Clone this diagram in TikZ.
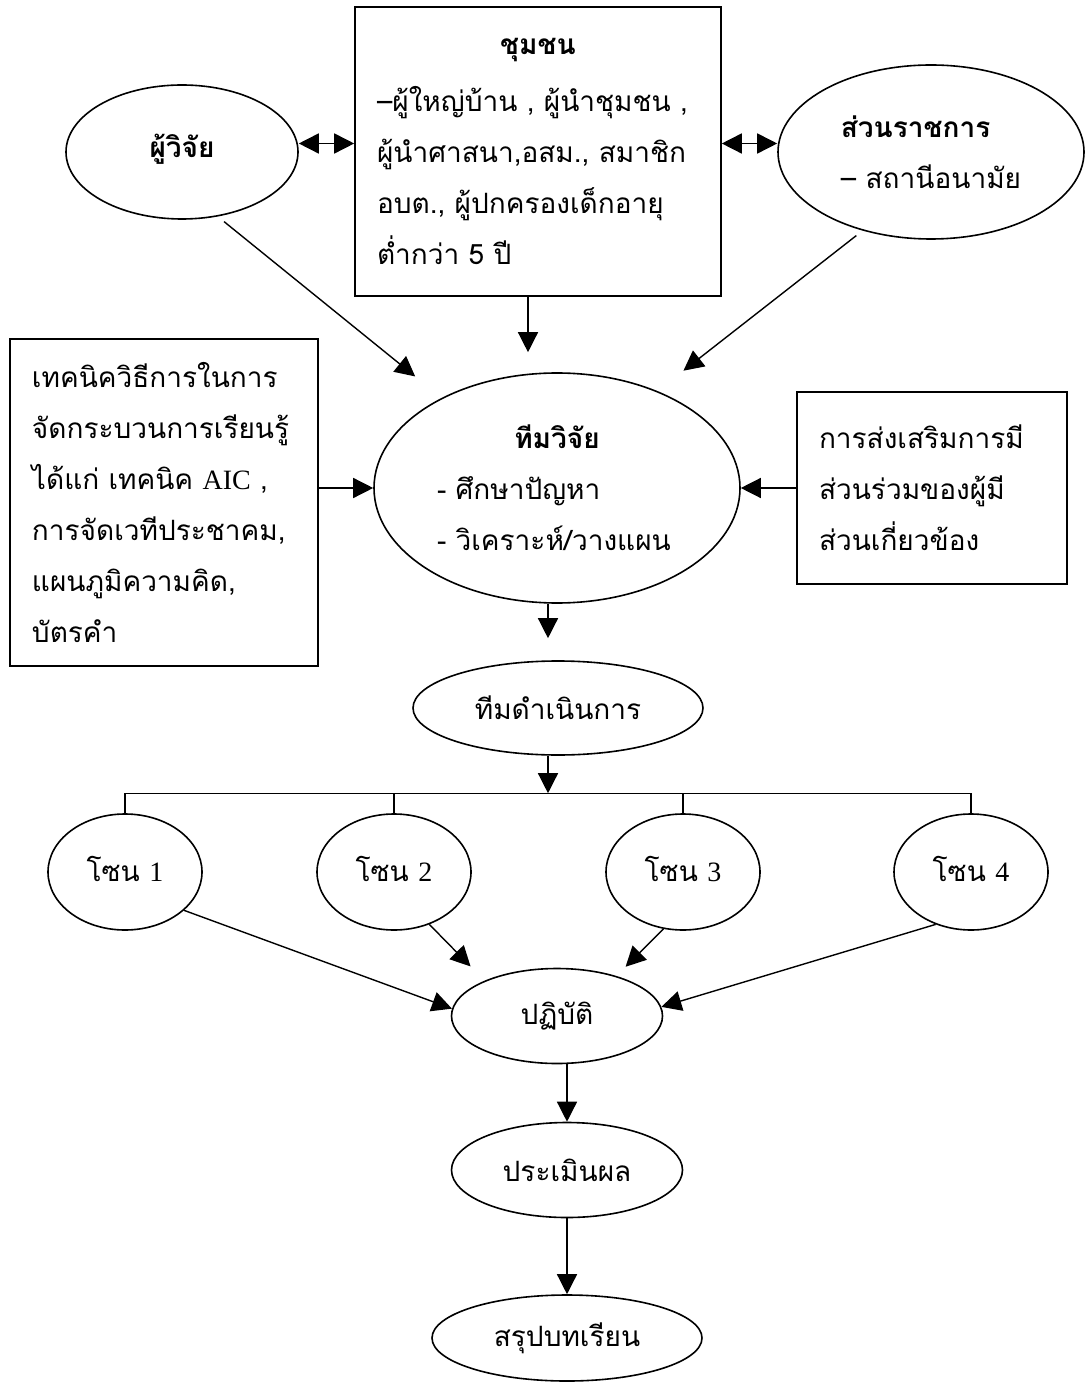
\documentclass[tikz,border=0pt]{standalone}
\usepackage{fontspec}
\setmainfont[Script=Thai]{Loma}
\newfontfamily\latinserif{Liberation Serif}
\usetikzlibrary{shapes.geometric,arrows.meta}

\tikzset{
  thtext/.style={font=\fontsize{14}{25.5}\selectfont},
  oval/.style={draw, ellipse, line width=0.8pt, inner sep=0pt, thtext},
  textbox/.style={draw, rectangle, line width=0.8pt, inner xsep=11pt, inner ysep=0pt, align=left, thtext},
  arr/.style={-{Triangle[length=10pt,width=10pt]}, line width=0.7pt},
  dblarr/.style={{Triangle[length=10pt,width=10pt]}-{Triangle[length=10pt,width=10pt]}, line width=0.8pt},
}

\begin{document}
\begin{tikzpicture}[x=0.5pt, y=-0.5pt]
\useasboundingbox (0,0) rectangle (1085,1384);

% Define nodes
\node[oval, minimum width=116pt, minimum height=67pt] (res) at (182,152) {\raisebox{6pt}{\textbf{ผู้วิจัย}}};
\node[textbox, text width=161pt, minimum height=144.5pt] (com) at (538,151.5) {{\centering\bfseries ชุมชน\par}\vspace{3pt}–ผู้ใหญ่บ้าน , ผู้นำชุมชน ,\\ ผู้นำศาสนา,อสม., สมาชิก\\ อบต., ผู้ปกครองเด็กอายุ\\ ต่ำกว่า 5 ปี};
\node[oval, minimum width=153pt, minimum height=87pt, align=left] (gov) at (931,152) {\textbf{ส่วนราชการ}\\ – สถานีอนามัย};
\node[textbox, text width=132pt, minimum height=163.5pt] (tech) at (164,502.5) {เทคนิควิธีการในการ\\ จัดกระบวนการเรียนรู้\\ ได้แก่ เทคนิค {\latinserif AIC} ,\\ การจัดเวทีประชาคม,\\ แผนภูมิความคิด,\\ บัตรคำ};
\node[oval, minimum width=183pt, minimum height=115pt, text width=120pt, align=left] (team) at (557,488) {{\centering\bfseries ทีมวิจัย\par}-~ศึกษาปัญหา\\ -~วิเคราะห์/วางแผน};
\node[textbox, text width=113pt, minimum height=96pt] (prom) at (932,488) {การส่งเสริมการมี\\ ส่วนร่วมของผู้มี\\ ส่วนเกี่ยวข้อง};
\node[oval, minimum width=145pt, minimum height=47pt] (ops) at (558,708) {ทีมดำเนินการ};
\foreach \i/\x in {1/125,2/394,3/683,4/971}
  \node[oval, minimum width=77pt, minimum height=58pt] (z\i) at (\x,872) {\raisebox{3pt}{โซน {\latinserif\i}}};
\node[oval, minimum width=105.5pt, minimum height=47.5pt] (act) at (557,1016) {ปฏิบัติ};
\node[oval, minimum width=115.5pt, minimum height=47.5pt] (eval) at (567,1170) {ประเมินผล};
\node[oval, minimum width=135pt, minimum height=43pt] (sum) at (567,1338) {สรุปบทเรียน};

% Draw arrows
\draw[dblarr] ([yshift=4pt]com.west -| res.east) -- ([yshift=4pt]com.west);
\draw[dblarr] ([yshift=4pt]com.east) -- ([yshift=4pt]com.east -| gov.west);
\draw[arr, shorten <=4pt, shorten >=17pt] (res.-61) -- (team.142);
\draw[arr, shorten >=10pt] ([xshift=-5pt]com.south) -- ([xshift=-5pt]com.south |- team.north);
\draw[arr, shorten <=4pt, shorten >=16.5pt] (gov.-131) -- (team.44);
\draw[arr] (tech.east |- team.west) -- (team.west);
\draw[arr] (prom.west) -- (team.east);
\draw[arr, shorten >=11pt] ([xshift=-4.5pt]team.south) -- ([xshift=-4.5pt]team.south |- ops.north);

% Bus to the zones
\coordinate (bus) at ([yshift=10pt]z1.north);
\draw[arr] ([xshift=-5pt]ops.south) -- ([xshift=-5pt]ops.south |- bus);
\draw[line width=0.7pt] (bus) -- ([yshift=10pt]z4.north);
\foreach \i in {1,...,4}
  \draw[line width=0.7pt] (z\i.north) -- ++(0,10pt);

% Zones to practice
\draw[arr] (z1.-33) -- (act.176);
\draw[arr, shorten >=10pt] (z2.-56) -- (act.154);
\draw[arr, shorten >=6.5pt] (z3.-109) -- (act.34);
\draw[arr] (z4.-124) -- (act.5);
\draw[arr] (act.south -| eval.north) -- (eval.north);
\draw[arr] (eval.south) -- (sum.north);
\end{tikzpicture}
\end{document}
